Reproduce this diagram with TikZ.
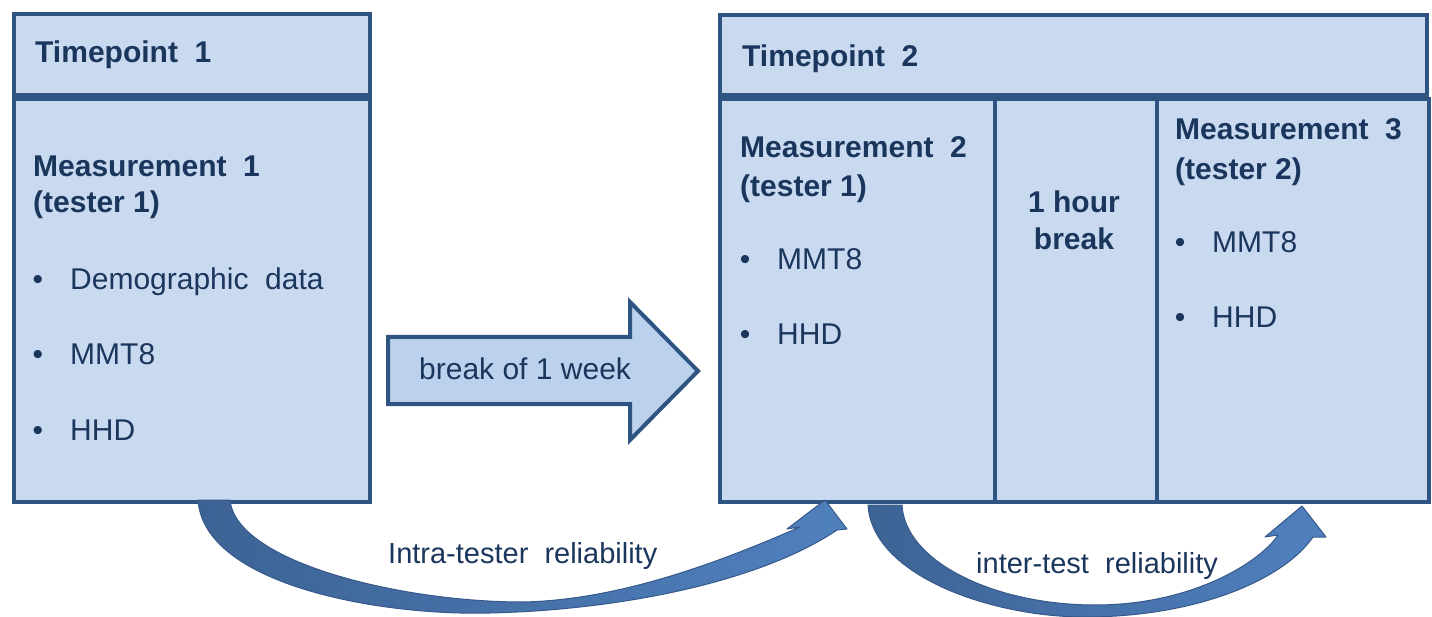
\documentclass[tikz,border=0pt]{standalone}
\usepackage{fontspec}
\setmainfont{Liberation Sans}
\definecolor{boxfill}{HTML}{C9DAF0}
\definecolor{bordercol}{HTML}{2E5482}
\definecolor{textcol}{HTML}{1B365D}
\definecolor{arrfill}{HTML}{BCD1EB}
\definecolor{curvedark}{HTML}{3D6395}
\definecolor{curvelight}{HTML}{4F80BE}
\definecolor{curveedge}{HTML}{36598A}
\tikzset{
  panel/.style={draw=bordercol, line width=4pt, fill=boxfill, rectangle, inner sep=0pt, anchor=north west},
  headtxt/.style={font=\bfseries\fontsize{30pt}{36pt}\selectfont, text=textcol, anchor=base west, inner sep=0pt},
  itemtxt/.style={font=\fontsize{30pt}{36pt}\selectfont, text=textcol, anchor=base west, inner sep=0pt},
  labeltxt/.style={font=\fontsize{29pt}{35pt}\selectfont, text=textcol, anchor=base west, inner sep=0pt},
  bullettxt/.style={font=\fontsize{30pt}{36pt}\selectfont, text=textcol, anchor=base, inner sep=0pt},
  bigarrow/.style={draw=bordercol, line width=4pt, fill=arrfill, line join=miter},
  curvearrow/.style={draw=curveedge, line width=1pt, left color=curvedark, right color=curvelight, line join=round},
}
\begin{document}
\begin{tikzpicture}[x=1pt,y=-1pt]
\useasboundingbox (0,0) rectangle (1432,617);

% ---- Timepoint 1 ----
\node[panel, minimum width=356pt, minimum height=81pt] (tp1head) at (12,12) {};
\node[panel, minimum width=356pt, minimum height=403pt] (tp1body) at (12,97) {};
\node[headtxt] (tp1title) at (35,63) {Timepoint\ \ 1};
\node[headtxt] (m1a) at (33,177) {Measurement\ \ 1};
\node[headtxt] (m1b) at (33,213) {(tester 1)};
\node[bullettxt] (b11) at (38,290) {•};
\node[itemtxt] (i11) at (70,290) {Demographic\ \ data};
\node[bullettxt] (b12) at (38,365) {•};
\node[itemtxt] (i12) at (70,365) {MMT8};
\node[bullettxt] (b13) at (38,440) {•};
\node[itemtxt] (i13) at (70,440) {HHD};

% ---- break arrow ----
\draw[bigarrow] (388,337) -- (630,337) -- (630,302) -- (698,371) -- (630,440) -- (630,404) -- (388,404) -- cycle;
\node[itemtxt] (brk) at (419,380) {break of 1 week};

% ---- Timepoint 2 ----
\node[panel, minimum width=707pt, minimum height=80pt] (tp2head) at (718,13) {};
\node[panel, minimum width=275pt, minimum height=403pt] (cellA) at (718,97) {};
\node[panel, minimum width=162pt, minimum height=403pt] (cellB) at (993,97) {};
\node[panel, minimum width=272pt, minimum height=403pt] (cellC) at (1155,97) {};
\node[headtxt] (tp2title) at (742,67) {Timepoint\ \ 2};

\node[headtxt] (m2a) at (740,158) {Measurement\ \ 2};
\node[headtxt] (m2b) at (740,197) {(tester 1)};
\node[bullettxt] (b21) at (745,270) {•};
\node[itemtxt] (i21) at (777,270) {MMT8};
\node[bullettxt] (b22) at (745,345) {•};
\node[itemtxt] (i22) at (777,345) {HHD};

\node[headtxt, anchor=base] (hb1) at (1074,213) {1 hour};
\node[headtxt, anchor=base] (hb2) at (1074,250) {break};

\node[headtxt] (m3a) at (1175,140) {Measurement\ \ 3};
\node[headtxt] (m3b) at (1175,180) {(tester 2)};
\node[bullettxt] (b31) at (1180,253) {•};
\node[itemtxt] (i31) at (1212,253) {MMT8};
\node[bullettxt] (b32) at (1180,328) {•};
\node[itemtxt] (i32) at (1212,328) {HHD};

% ---- curved arrow 1: intra-tester ----
\path[curvearrow]
  (198,500) .. controls (204,585) and (380,616) .. (490,613)
  .. controls (620,610) and (760,582) .. (837,530)
  -- (847,529) -- (825,500) -- (787,529) -- (800,527)
  .. controls (720,562) and (620,600) .. (523,602)
  .. controls (400,602) and (236,562) .. (230,500) -- cycle;
\node[labeltxt] (intra) at (388,563) {Intra-tester\ \ reliability};

% ---- curved arrow 2: inter-test ----
\path[curvearrow]
  (868,505) .. controls (872,575) and (990,617) .. (1085,617)
  .. controls (1200,617) and (1285,578) .. (1313,537)
  -- (1326,537) -- (1302,506) -- (1265,537) -- (1278,535)
  .. controls (1262,560) and (1195,605) .. (1095,605)
  .. controls (995,605) and (905,562) .. (902,505) -- cycle;
\node[labeltxt] (inter) at (976,573) {inter-test\ \ reliability};
\end{tikzpicture}
\end{document}
